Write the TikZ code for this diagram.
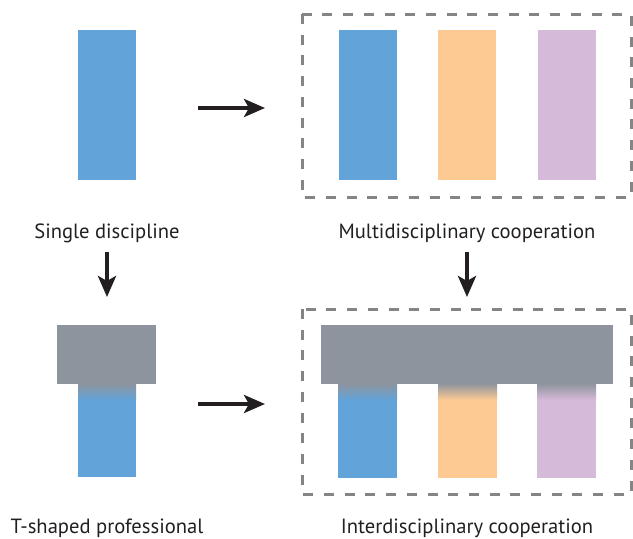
\documentclass[tikz,border=0pt]{standalone}
\usepackage{fontspec}
\setmainfont{PT Sans}
\usetikzlibrary{arrows.meta}

\definecolor{dblue}{HTML}{62A3D9}
\definecolor{dorange}{HTML}{FDCA93}
\definecolor{dpurple}{HTML}{D6BAD9}
\definecolor{tgray}{HTML}{8E949E}
\definecolor{boxgray}{HTML}{858585}
\definecolor{arrowblack}{HTML}{231F20}

\tikzset{
  bar/.style={inner sep=0pt,outer sep=0pt,minimum width=58pt,minimum height=150pt},
  caption/.style={font=\fontsize{20.6}{22}\selectfont,text=arrowblack,inner sep=0pt,anchor=base},
  groupbox/.style={draw=boxgray,line width=3pt,dash pattern=on 10pt off 10.7pt},
  bigarrow/.style={draw=arrowblack,line width=4pt,
    -{Stealth[length=21pt,width=18pt,inset=5pt]}}
}

\begin{document}
\begin{tikzpicture}[x=1pt,y=-1pt]
  \useasboundingbox (0,0) rectangle (633,539);

	% single discipline
	\node[bar,fill=dblue] (single) at (107,105) {};
	\node[caption] (singlelabel) at (107,238) {Single discipline};

	% multidisciplinary
	\draw[groupbox] (302,14) rectangle (631,197);
	\node[bar,fill=dblue] (multiA) at (368,105) {};
	\node[bar,fill=dorange] (multiB) at (467,105) {};
	\node[bar,fill=dpurple] (multiC) at (567,105) {};
	\node[caption] (multilabel) at (467,238) {Multidisciplinary cooperation};

	% T-shaped
	\fill[dblue] (78,384) rectangle (136,477);
	\shade[top color=tgray,bottom color=dblue] (78,383.5) rectangle (136,400);
	\fill[tgray] (57,325) rectangle (156,384);
	\node[caption] (tlabel) at (107,533) {T-shaped professional};

	% interdisciplinary
	\draw[groupbox] (302,309) rectangle (631,494);
	\fill[dblue] (338,384) rectangle (397,478);
	\fill[dorange] (438,384) rectangle (497,478);
	\fill[dpurple] (537,384) rectangle (596,478);
	\shade[top color=tgray,bottom color=dblue] (338,383.5) rectangle (397,400);
	\shade[top color=tgray,bottom color=dorange] (438,383.5) rectangle (497,400);
	\shade[top color=tgray,bottom color=dpurple] (537,383.5) rectangle (596,400);
	\fill[tgray] (321,325) rectangle (613,384);
	\node[caption] (interlabel) at (467,533) {Interdisciplinary cooperation};

	% arrows
	\coordinate (ra1) at (198,108); \coordinate (ra2) at (265,108);
	\coordinate (rb1) at (198,404); \coordinate (rb2) at (265,404);
	\coordinate (da1) at (107,252); \coordinate (da2) at (107,297);
	\coordinate (db1) at (467,252); \coordinate (db2) at (467,297);
	\draw[bigarrow] (ra1) -- (ra2);
	\draw[bigarrow] (rb1) -- (rb2);
	\draw[bigarrow] (da1) -- (da2);
	\draw[bigarrow] (db1) -- (db2);
\end{tikzpicture}
\end{document}
